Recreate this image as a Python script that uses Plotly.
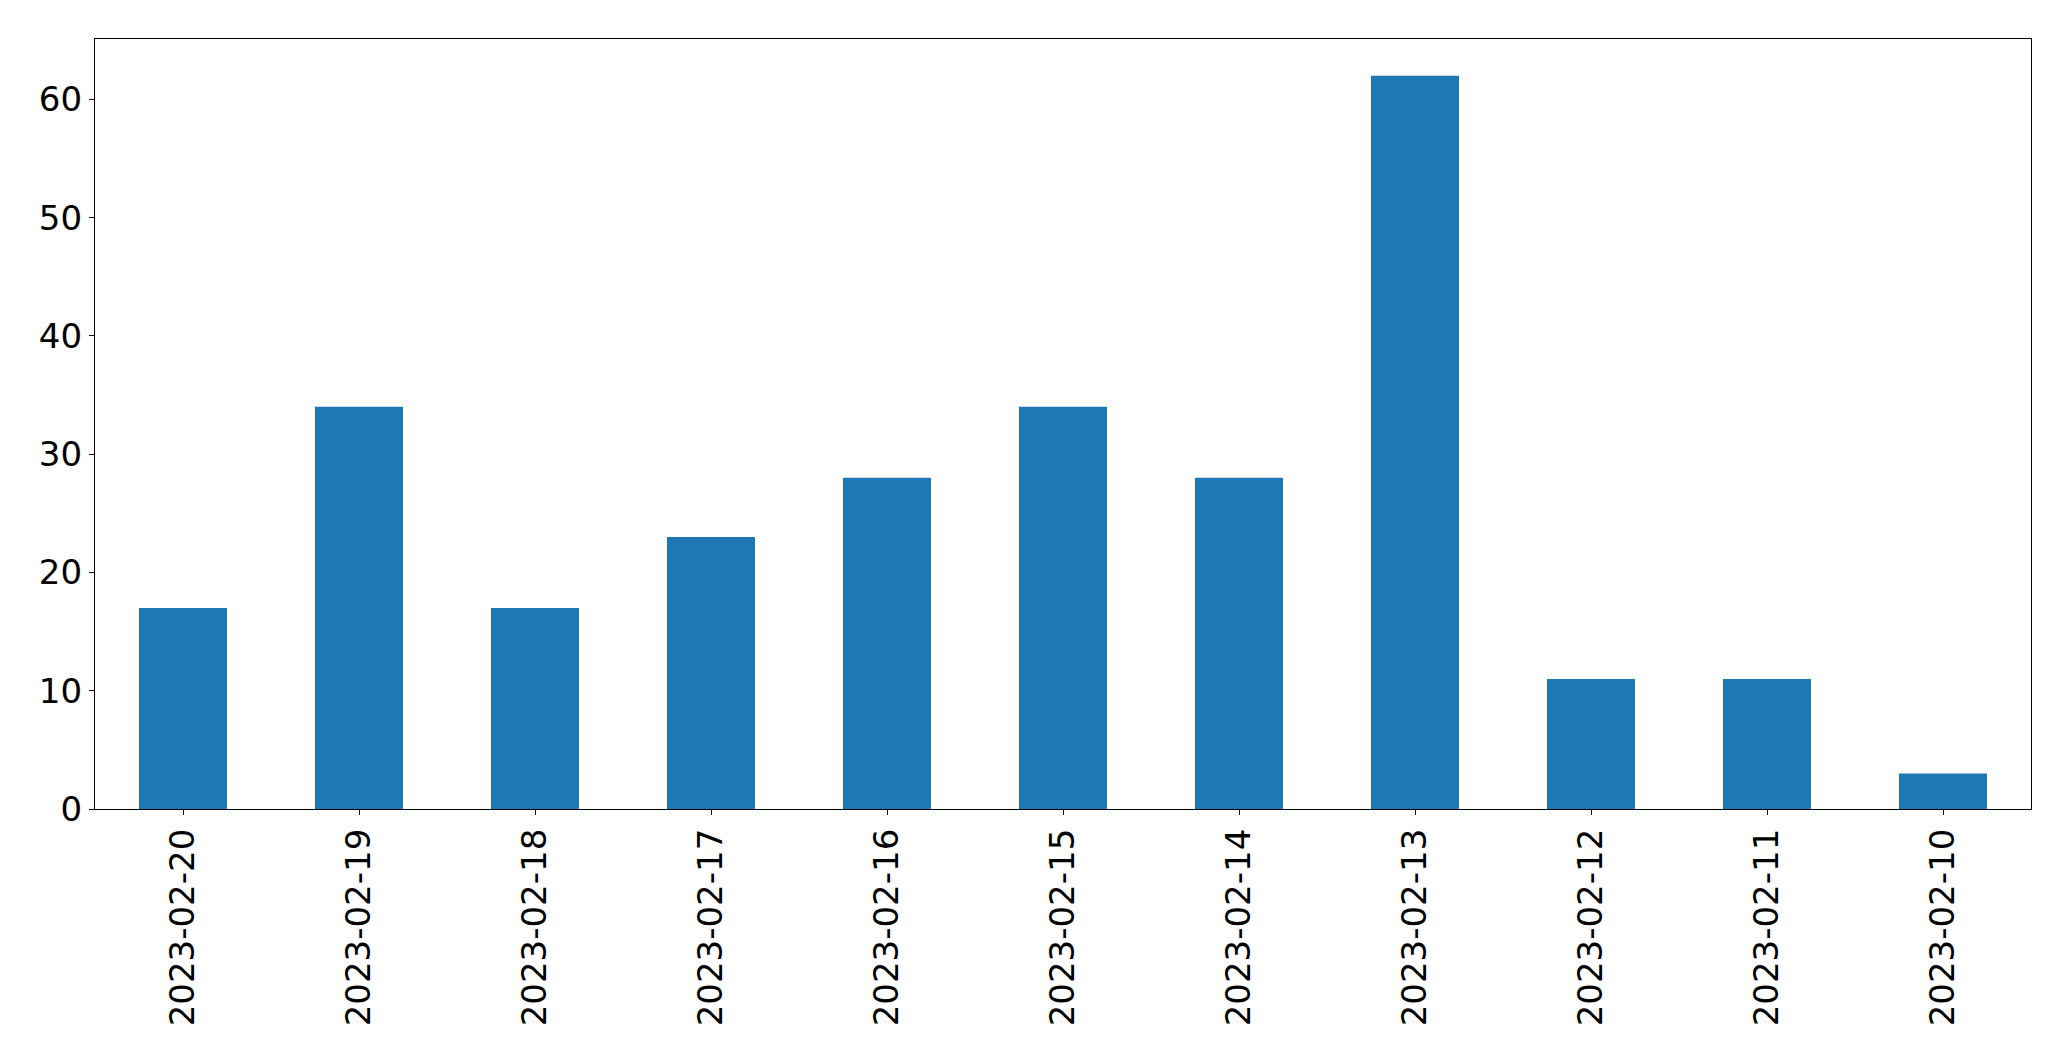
import plotly.graph_objects as go

dates = ["2023-02-20", "2023-02-19", "2023-02-18", "2023-02-17", "2023-02-16",
         "2023-02-15", "2023-02-14", "2023-02-13", "2023-02-12", "2023-02-11",
         "2023-02-10"]
counts = [17, 34, 17, 23, 28, 34, 28, 62, 11, 11, 3]
y_ticks = [0, 10, 20, 30, 40, 50, 60]

fig = go.Figure(go.Bar(x=dates, y=counts, width=0.5, marker=dict(color="#1f77b4", line=dict(width=0))))

font = dict(family="DejaVu Sans", size=34, color="black")
fig.update_layout(
    width=2063, height=1053,
    margin=dict(l=87, r=40, t=31, b=252),
    paper_bgcolor="white", plot_bgcolor="white",
    showlegend=False,
    font=font,
)
fig.update_xaxes(
    type="category", range=[-0.5, 10.5], tickangle=-90,
    showline=True, linecolor="black", linewidth=1.3, mirror=True,
    ticks="outside", ticklen=5, tickcolor="black", tickwidth=1.3,
    showgrid=False, zeroline=False, tickfont=font,
)
fig.update_yaxes(
    range=[0, 65.1], tickvals=y_ticks,
    showline=True, linecolor="black", linewidth=1.3, mirror=True,
    ticks="outside", ticklen=5, tickcolor="black", tickwidth=1.3,
    showgrid=False, zeroline=False, tickfont=font,
)
fig.write_html("out.html")
